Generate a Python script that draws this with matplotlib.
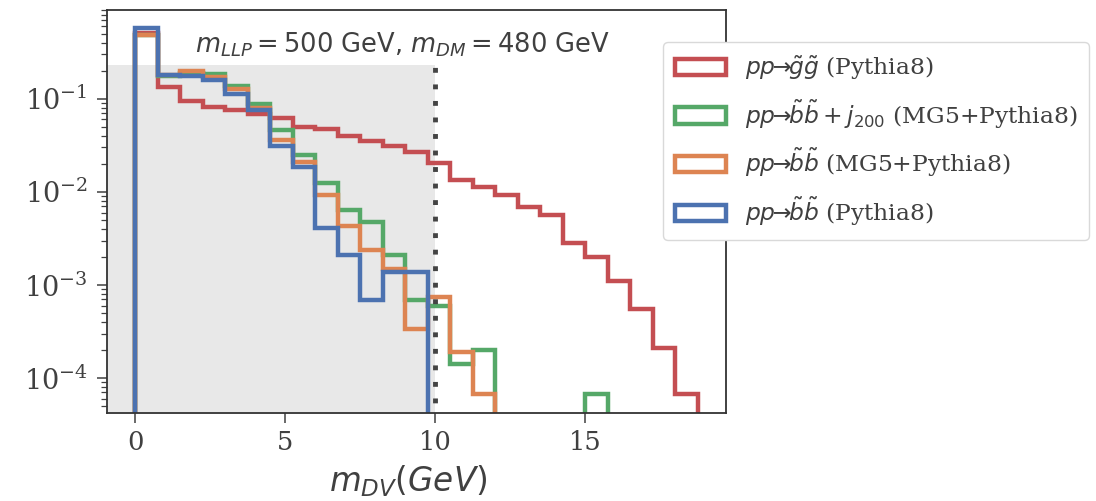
import numpy as np
import matplotlib
matplotlib.use('Agg')
from matplotlib import pyplot as plt

# bin edges of the m_DV histogram (GeV), 0.75 GeV wide
edges = np.arange(26) * 0.75
centers = 0.5 * (edges[:-1] + edges[1:])

# normalised bin contents
gluino_py8 = [0.51, 0.135, 0.094, 0.081, 0.076, 0.068, 0.062, 0.050, 0.047,
              0.040, 0.0356, 0.031, 0.027, 0.0205, 0.0135, 0.0112, 0.0093,
              0.0068, 0.0057, 0.00285, 0.0020, 0.0011, 0.00055, 0.00021,
              0.000068]
sbottom_jet_mg5 = [0.487, 0.178, 0.19, 0.185, 0.137, 0.089, 0.046, 0.025,
                   0.0126, 0.0064, 0.0047, 0.0021, 0.00069, 0.0006,
                   0.00014, 0.0002, 0, 0, 0, 0, 0.000068, 0, 0, 0, 0]
sbottom_mg5 = [0.49, 0.18, 0.197, 0.17, 0.128, 0.08, 0.036, 0.021, 0.0093,
               0.0043, 0.0024, 0.0015, 0.00034, 0.00075, 0.00019, 0.000068,
               0, 0, 0, 0, 0, 0, 0, 0, 0]
sbottom_py8 = [0.575, 0.181, 0.174, 0.16, 0.113, 0.075, 0.031, 0.0187,
               0.0041, 0.0021, 0.00069, 0.00136, 0.00136, 0, 0, 0, 0, 0, 0,
               0, 0, 0, 0, 0, 0]

labels = [r'$pp\!\!\to\!\!\tilde{g}\tilde{g}$ (Pythia8)',
          r'$pp\!\!\to\!\!\tilde{b}\tilde{b}+j_{200}$ (MG5+Pythia8)',
          r'$pp\!\!\to\!\!\tilde{b}\tilde{b}$ (MG5+Pythia8)',
          r'$pp\!\!\to\!\!\tilde{b}\tilde{b}$ (Pythia8)']
colors = ['#C44E52', '#55A868', '#DD8452', '#4C72B0']

cut_x = 10.0       # m_DV cut
cut_shade = 0.23   # height of the shaded region
cut_line = 0.25    # height of the dotted line

plt.rcParams['font.family'] = 'DejaVu Serif'
plt.rcParams['mathtext.fontset'] = 'dejavusans'
plt.rcParams['text.color'] = '0.25'
plt.rcParams['axes.labelcolor'] = '0.25'
plt.rcParams['xtick.color'] = '0.25'
plt.rcParams['ytick.color'] = '0.25'
plt.rcParams['axes.edgecolor'] = '0.2'

fig = plt.figure(figsize=(10.96, 5.01), dpi=100)
ax = fig.add_axes([0.0976, 0.1756, 0.5648, 0.8044])

series = [gluino_py8, sbottom_jet_mg5, sbottom_mg5, sbottom_py8]
for vals, c, lab in zip(series, colors, labels):
    ax.hist(centers, bins=edges, weights=vals, histtype='step',
            color=c, lw=3.2, label=lab)

ax.set_yscale('log', nonpositive='clip')
ax.set_ylim(4.2e-5, 0.9)
xl = ax.get_xlim()
ax.fill_between([xl[0], cut_x], 1e-6, cut_shade, color='#e8e8e8',
                lw=0, zorder=0)
ax.vlines(cut_x, 1e-6, cut_line, colors='#444444', lw=3.5,
          linestyles=(0, (1, 2.4)), zorder=3)
ax.set_xlim(xl)
ax.set_xticks([0, 5, 10, 15])

ax.tick_params(axis='x', which='major', labelsize=18.5, length=7,
               width=1.1, direction='out', pad=5)
ax.tick_params(axis='y', which='major', labelsize=19.5, length=7,
               width=1.1, direction='out', pad=7)
ax.tick_params(axis='y', which='minor', length=4, width=0.9)
for s in ax.spines.values():
    s.set_linewidth(1.3)

ax.text(0.477, 0.913, r'$m_{LLP} = 500$ GeV, $m_{DM} = 480$ GeV',
        transform=ax.transAxes, ha='center', va='center', fontsize=18.5,
        family='DejaVu Sans')
ax.set_xlabel(r'$m_{DV} (GeV)$', fontsize=23.5)
ax.xaxis.set_label_coords(0.487, -0.125)

leg = ax.legend(loc='upper left', bbox_to_anchor=(0.605, 0.916),
                bbox_transform=fig.transFigure, borderaxespad=0,
                fontsize=16.8, handlelength=2.2, handletextpad=0.8,
                frameon=True, fancybox=True, edgecolor='0.85',
                framealpha=1.0, labelspacing=0.66, borderpad=0.5)

plt.savefig('out.png', dpi=100)
